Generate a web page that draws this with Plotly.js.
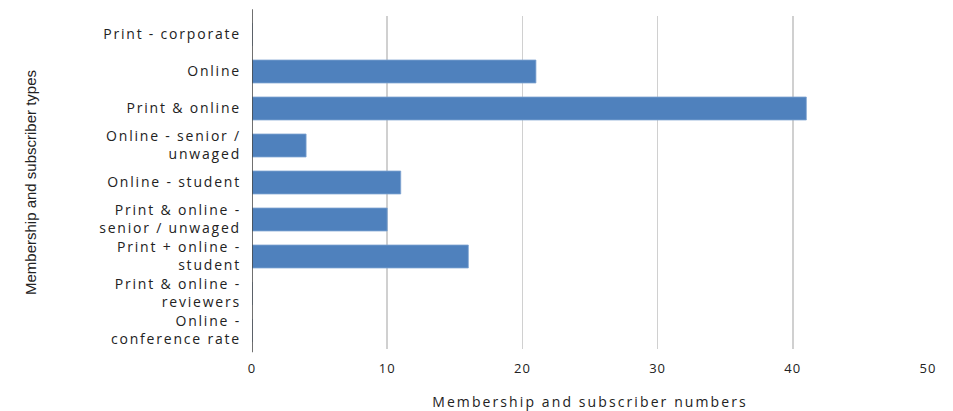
<!DOCTYPE html>
<html>
<head>
<meta charset="utf-8">
<script src="https://cdn.plot.ly/plotly-3.0.1.min.js"></script>
<style>
html, body { margin: 0; padding: 0; background: #ffffff; }
#chart { width: 953px; height: 411px; }
.ytick text { letter-spacing: 1.8px; }
.xtick text { letter-spacing: 1px; }
.g-xtitle text { letter-spacing: 2.1px; }
</style>
</head>
<body>
<div id="chart"></div>
<script>
const categories = [
  "Print - corporate",
  "Online",
  "Print & online",
  "Online - senior /<br>unwaged",
  "Online - student",
  "Print & online -<br>senior / unwaged",
  "Print + online -<br>student",
  "Print & online -<br>reviewers",
  "Online -<br>conference rate"
];
const values = [0, 21, 41, 4, 11, 10, 16, 0, 0];
const xTickValues = [0, 10, 20, 30, 40, 50];
const xTitle = "Membership and subscriber numbers";
const yTitle = "Membership and subscriber types";

const trace = {
  type: "bar",
  orientation: "h",
  y: categories,
  x: values,
  width: 0.62,
  marker: { color: "#4f81bd", line: { color: "#7fa3d0", width: 0.8 } },
  hoverinfo: "x+y"
};

const layout = {
  width: 953,
  height: 411,
  paper_bgcolor: "#ffffff",
  plot_bgcolor: "#ffffff",
  showlegend: false,
  margin: { l: 252, r: 25, t: 16, b: 62 },
  font: { family: "Open Sans, Liberation Sans, sans-serif", size: 13, color: "#222222" },
  xaxis: {
    range: [0, 50],
    tickvals: xTickValues,
    ticktext: xTickValues.map(String),
    showgrid: true,
    gridcolor: "#d0d0d0",
    gridwidth: 1.5,
    zeroline: false,
    showline: false,
    ticks: "",
    ticklabelstandoff: 10,
    fixedrange: true,
    tickfont: { size: 13, color: "#222222" },
    title: { text: xTitle, font: { size: 14, color: "#222222" }, standoff: 26 }
  },
  yaxis: {
    categoryorder: "array",
    categoryarray: categories,
    autorange: "reversed",
    showgrid: false,
    zeroline: false,
    showline: false,
    ticks: "",
    ticklabelstandoff: 10,
    fixedrange: true,
    tickfont: { size: 14, color: "#222222" },
    title: { text: yTitle, font: { family: "Liberation Sans Narrow, Liberation Sans, sans-serif", size: 15, color: "#222222" }, standoff: 58 }
  },
  shapes: [
    { type: "line", xref: "x", yref: "paper", x0: 0, x1: 0, y0: -0.01, y1: 1.02, line: { color: "#404040", width: 1.5 } }
  ]
};

Plotly.newPlot("chart", [trace], layout, { displayModeBar: false, staticPlot: true });
</script>
</body>
</html>
